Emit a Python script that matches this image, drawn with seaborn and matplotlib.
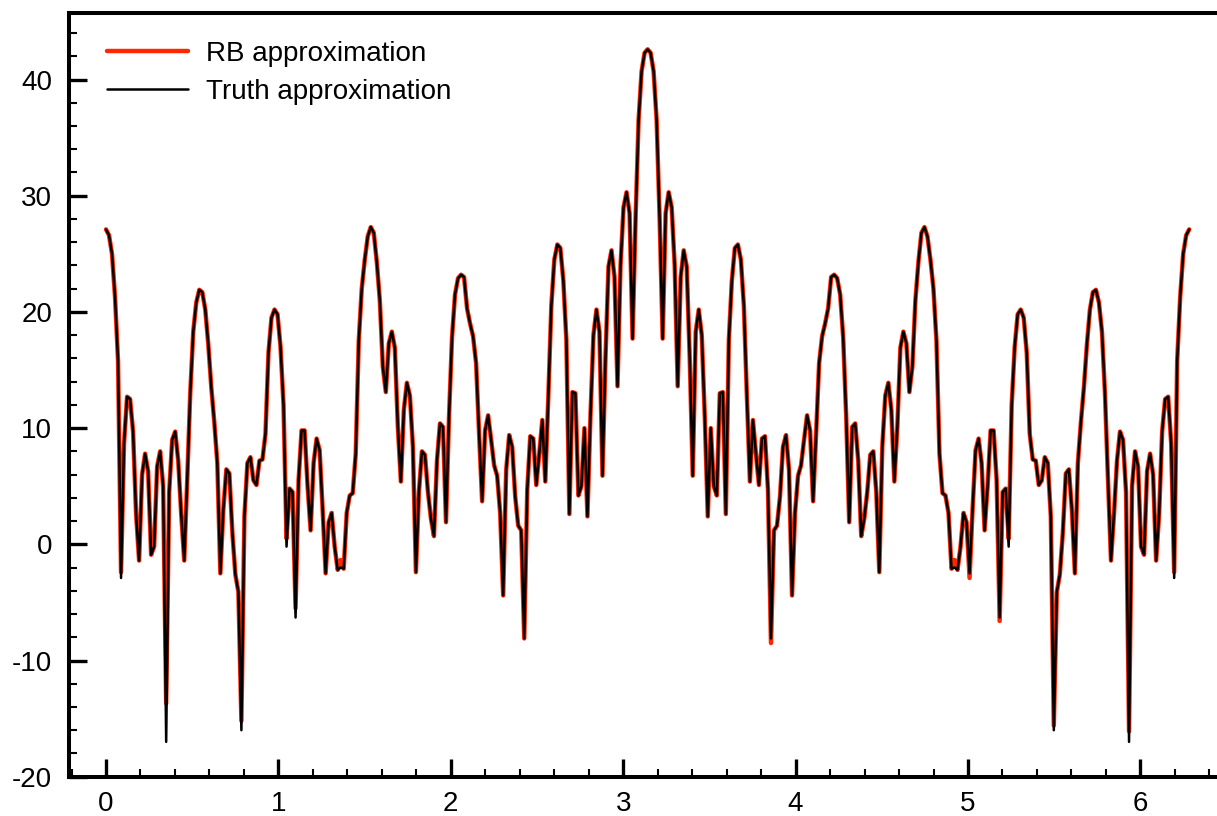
import numpy as np
import pandas as pd
import matplotlib
matplotlib.use("Agg")
import matplotlib.pyplot as plt
from matplotlib.ticker import MultipleLocator
import seaborn as sns

# Sampling angle in degrees (0..360, one sample per degree)
angle_deg = np.arange(0, 361)

# Reference ("truth") solution
truth = [
    27.1, 26.6, 25.0, 21.3, 15.8, -2.9, 8.7, 12.7, 12.5, 9.7,
    2.6, -1.4, 6.0, 7.8, 6.3, -0.9, -0.2, 6.7, 8.0, 5.0,
    -17.0, 4.5, 9.0, 9.7, 7.2, 2.6, -1.4, 5.6, 13.0, 18.3,
    20.8, 21.9, 21.7, 20.2, 17.2, 13.5, 10.5, 7.0, -2.5, 3.0,
    6.45, 6.1, 1.0, -2.6, -4.1, -16.0, 2.4, 7.0, 7.5, 5.5,
    5.1, 7.2, 7.3, 9.5, 16.5, 19.5, 20.2, 19.8, 17.0, 12.0,
    -0.2, 4.8, 4.5, -6.3, 5.5, 9.8, 9.8, 5.0, 1.2, 7.0,
    9.1, 8.1, 3.0, -2.5, 1.9, 2.7, -0.2, -2.2, -2.0, -2.1,
    2.7, 4.2, 4.4, 7.8, 17.5, 22.0, 24.5, 26.5, 27.3, 26.8,
    24.3, 21.0, 15.3, 13.1, 17.3, 18.3, 16.9, 10.1, 5.4, 11.6,
    13.9, 12.8, 8.4, -2.4, 4.5, 8.0, 7.7, 4.5, 2.2, 0.7,
    7.2, 10.4, 10.1, 1.9, 11.0, 17.8, 21.5, 22.9, 23.2, 23.0,
    20.3, 19.0, 17.9, 15.6, 9.5, 3.7, 9.8, 11.1, 9.0, 6.8,
    5.9, 2.7, -4.4, 6.4, 9.4, 8.4, 4.1, 1.6, 1.2, -8.1,
    4.7, 9.3, 9.1, 5.1, 7.8, 10.7, 5.4, 12.7, 20.5, 24.5,
    25.8, 25.5, 22.7, 17.6, 2.6, 13.1, 13.0, 4.2, 5.0, 10.0,
    2.4, 11.0, 18.0, 20.2, 18.3, 5.9, 16.0, 23.9, 25.3, 23.0,
    13.6, 24.0, 29.0, 30.3, 28.5, 17.7, 28.0, 36.5, 40.7, 42.3,
    42.6, 42.3, 40.7, 36.5, 28.0, 17.7, 28.5, 30.3, 29.0, 24.0,
    13.6, 23.0, 25.3, 23.9, 16.0, 5.9, 18.3, 20.2, 18.0, 11.0,
    2.4, 10.0, 5.0, 4.2, 13.0, 13.1, 2.6, 17.6, 22.7, 25.5,
    25.8, 24.5, 20.5, 12.7, 5.4, 10.7, 7.8, 5.1, 9.1, 9.3,
    4.7, -8.1, 1.2, 1.6, 4.1, 8.4, 9.4, 6.4, -4.4, 2.7,
    5.9, 6.8, 9.0, 11.1, 9.8, 3.7, 9.5, 15.6, 17.9, 19.0,
    20.3, 23.0, 23.2, 22.9, 21.5, 17.8, 11.0, 1.9, 10.1, 10.4,
    7.2, 0.7, 2.2, 4.5, 7.7, 8.0, 4.5, -2.4, 8.4, 12.8,
    13.9, 11.6, 5.4, 10.1, 16.9, 18.3, 17.3, 13.1, 15.3, 21.0,
    24.3, 26.8, 27.3, 26.5, 24.5, 22.0, 17.5, 7.8, 4.4, 4.2,
    2.7, -2.1, -2.0, -2.2, -0.2, 2.7, 1.9, -2.5, 3.0, 8.1,
    9.1, 7.0, 1.2, 5.0, 9.8, 9.8, 5.5, -6.3, 4.5, 4.8,
    -0.2, 12.0, 17.0, 19.8, 20.2, 19.5, 16.5, 9.5, 7.3, 7.2,
    5.1, 5.5, 7.5, 7.0, 2.4, -16.0, -4.1, -2.6, 1.0, 6.1,
    6.45, 3.0, -2.5, 7.0, 10.5, 13.5, 17.2, 20.2, 21.7, 21.9,
    20.8, 18.3, 13.0, 5.6, -1.4, 2.6, 7.2, 9.7, 9.0, 4.5,
    -17.0, 5.0, 8.0, 6.7, -0.2, -0.9, 6.3, 7.8, 6.0, -1.4,
    2.6, 9.7, 12.5, 12.7, 8.7, -2.9, 15.8, 21.3, 25.0, 26.6,
    27.1,
]

# Reduced-basis approximation
rb = [
    27.1, 26.6, 25.0, 21.3, 15.8, -2.4, 8.7, 12.7, 12.5, 9.7,
    2.6, -1.4, 6.0, 7.8, 6.3, -0.9, -0.2, 6.7, 8.0, 5.0,
    -13.7, 4.5, 9.0, 9.7, 7.2, 2.6, -1.4, 5.6, 13.0, 18.3,
    20.8, 21.9, 21.7, 20.2, 17.2, 13.5, 10.5, 7.0, -2.5, 3.0,
    6.45, 6.1, 1.0, -2.6, -4.1, -15.2, 2.4, 7.0, 7.5, 5.5,
    5.1, 7.2, 7.3, 9.5, 16.5, 19.5, 20.2, 19.8, 17.0, 12.0,
    0.5, 4.8, 4.5, -5.5, 5.5, 9.8, 9.8, 5.0, 1.2, 7.0,
    9.1, 8.1, 3.0, -2.5, 1.9, 2.7, -0.2, -2.2, -1.35, -2.1,
    2.7, 4.2, 4.4, 7.8, 17.5, 22.0, 24.5, 26.5, 27.3, 26.8,
    24.3, 21.0, 15.3, 13.1, 17.3, 18.3, 16.9, 10.1, 5.4, 11.6,
    13.9, 12.8, 8.4, -2.4, 4.5, 8.0, 7.7, 4.5, 2.2, 0.7,
    7.2, 10.4, 10.1, 1.9, 11.0, 17.8, 21.5, 22.9, 23.2, 23.0,
    20.3, 19.0, 17.9, 15.6, 9.5, 3.7, 9.8, 11.1, 9.0, 6.8,
    5.9, 2.7, -4.4, 6.4, 9.4, 8.4, 4.1, 1.6, 1.2, -8.1,
    4.7, 9.3, 9.1, 5.1, 7.8, 10.7, 5.4, 12.7, 20.5, 24.5,
    25.8, 25.5, 22.7, 17.6, 2.6, 13.1, 13.0, 4.2, 5.0, 10.0,
    2.4, 11.0, 18.0, 20.2, 18.3, 5.9, 16.0, 23.9, 25.3, 23.0,
    13.6, 24.0, 29.0, 30.3, 28.5, 17.7, 28.0, 36.5, 40.7, 42.3,
    42.6, 42.3, 40.7, 36.5, 28.0, 17.7, 28.5, 30.3, 29.0, 24.0,
    13.6, 23.0, 25.3, 23.9, 16.0, 5.9, 18.3, 20.2, 18.0, 11.0,
    2.4, 10.0, 5.0, 4.2, 13.0, 13.1, 2.6, 17.6, 22.7, 25.5,
    25.8, 24.5, 20.5, 12.7, 5.4, 10.7, 7.8, 5.1, 9.1, 9.3,
    4.7, -8.5, 1.2, 1.6, 4.1, 8.4, 9.4, 6.4, -4.4, 2.7,
    5.9, 6.8, 9.0, 11.1, 9.8, 3.7, 9.5, 15.6, 17.9, 19.0,
    20.3, 23.0, 23.2, 22.9, 21.5, 17.8, 11.0, 1.9, 10.1, 10.4,
    7.2, 0.7, 2.2, 4.5, 7.7, 8.0, 4.5, -2.4, 8.4, 12.8,
    13.9, 11.6, 5.4, 10.1, 16.9, 18.3, 17.3, 13.1, 15.3, 21.0,
    24.3, 26.8, 27.3, 26.5, 24.5, 22.0, 17.5, 7.8, 4.4, 4.2,
    2.7, -2.1, -1.35, -2.2, -0.2, 2.7, 1.9, -2.9, 3.0, 8.1,
    9.1, 7.0, 1.2, 5.0, 9.8, 9.8, 5.5, -6.6, 4.5, 4.8,
    0.5, 12.0, 17.0, 19.8, 20.2, 19.5, 16.5, 9.5, 7.3, 7.2,
    5.1, 5.5, 7.5, 7.0, 2.4, -15.6, -4.1, -2.6, 1.0, 6.1,
    6.45, 3.0, -2.5, 7.0, 10.5, 13.5, 17.2, 20.2, 21.7, 21.9,
    20.8, 18.3, 13.0, 5.6, -1.4, 2.6, 7.2, 9.7, 9.0, 4.5,
    -16.1, 5.0, 8.0, 6.7, -0.2, -0.9, 6.3, 7.8, 6.0, -1.4,
    2.6, 9.7, 12.5, 12.7, 8.7, -2.4, 15.8, 21.3, 25.0, 26.6,
    27.1,
]

series_labels = ["RB approximation", "Truth approximation"]

df = pd.DataFrame({"theta": np.deg2rad(angle_deg), "rb": rb, "truth": truth})

sns.set_style("ticks")
plt.rcParams["font.family"] = ["Liberation Sans", "DejaVu Sans"]
plt.rcParams["axes.unicode_minus"] = False
plt.rcParams["text.color"] = "black"
plt.rcParams["xtick.color"] = "black"
plt.rcParams["ytick.color"] = "black"

W, H = 1217, 816
fig = plt.figure(figsize=(W / 100, H / 100), dpi=100)
# axes extend a little past the right edge of the canvas
ax = fig.add_axes([69 / W, 1 - 776.7 / H, 1157.6 / W, 764 / H])

sns.lineplot(data=df, x="theta", y="rb", ax=ax, color="#ff2600", lw=3.2,
             label=series_labels[0], sort=False)
sns.lineplot(data=df, x="theta", y="truth", ax=ax, color="black", lw=1.8,
             label=series_labels[1], sort=False)

ax.set_xlim(-0.2146, 6.5)
ax.set_ylim(-20, 45.75)
ax.set_xlabel("")
ax.set_ylabel("")

ax.xaxis.set_major_locator(MultipleLocator(1))
ax.xaxis.set_minor_locator(MultipleLocator(0.2))
ax.yaxis.set_major_locator(MultipleLocator(10))
ax.yaxis.set_minor_locator(MultipleLocator(2))

for side in ["left", "bottom", "top", "right"]:
    ax.spines[side].set_linewidth(2.9)
    ax.spines[side].set_color("black")

ax.tick_params(which="major", direction="in", length=13, width=2.4,
               labelsize=20, colors="black", labelcolor="black",
               top=False, right=False)
ax.tick_params(which="minor", direction="in", length=6, width=1.5,
               top=False, right=False)
ax.tick_params(axis="x", which="major", pad=10.5)
ax.tick_params(axis="y", which="major", pad=12)

leg = ax.legend(loc="upper left", bbox_to_anchor=(0.0328, 0.963), frameon=False,
                fontsize=20, handlelength=2.9, handletextpad=0.68,
                borderaxespad=0, borderpad=0, labelspacing=0.42)
for txt in leg.get_texts():
    txt.set_color("black")

fig.savefig("out.png", dpi=100)
